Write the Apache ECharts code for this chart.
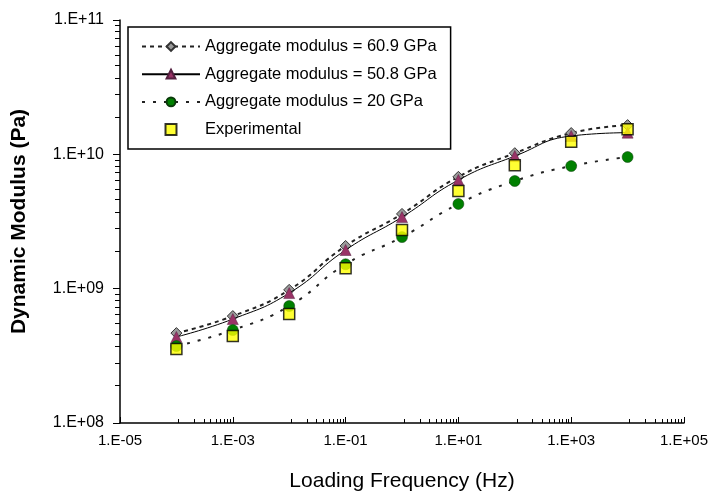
<!DOCTYPE html>
<html>
<head>
<meta charset="utf-8">
<script src="https://cdn.jsdelivr.net/npm/echarts@6/dist/echarts.min.js"></script>
<style>
  html, body { margin: 0; padding: 0; background: #fff; }
  #chart { width: 718px; height: 495px; }
</style>
</head>
<body>
<div id="chart"></div>
<script>
// loading frequency, Hz
var freq = [1e-4, 1e-3, 1e-2, 1e-1, 1, 10, 100, 1000, 10000]
// dynamic modulus, Pa
var mod609 = [4.67e8, 6.25e8, 9.8e8, 2.08e9, 3.6e9, 6.8e9, 1.02e10, 1.44e10, 1.65e10]
var mod508 = [4.37e8, 5.94e8, 9.27e8, 1.94e9, 3.41e9, 6.44e9, 9.7e9, 1.37e10, 1.45e10]
var mod20 = [3.74e8, 4.92e8, 7.43e8, 1.52e9, 2.42e9, 4.27e9, 6.33e9, 8.18e9, 9.55e9]
var experimental = [3.55e8, 4.44e8, 6.47e8, 1.42e9, 2.73e9, 5.33e9, 8.31e9, 1.24e10, 1.54e10]
var names = ['Aggregate modulus = 60.9 GPa', 'Aggregate modulus = 50.8 GPa', 'Aggregate modulus = 20 GPa', 'Experimental']

var squareIcon = 'path://M0,0L10,0L10,10L0,10Z'

function pairs (ys) {
  return freq.map(function (f, i) { return [f, ys[i]] })
}
function expLabel (v) {
  var e = Math.round(Math.log10(v))
  var s = e < 0 ? '-' : '+'
  var a = Math.abs(e)
  return '1.E' + s + (a < 10 ? '0' + a : a)
}

var font = 'Liberation Sans, Arial, sans-serif'
var chart = echarts.init(document.getElementById('chart'))
chart.setOption({
  animation: false,
  textStyle: { fontFamily: font },
  grid: { left: 120, right: 34, top: 20, bottom: 72, outerBoundsMode: 'none' },
  legend: {
    orient: 'vertical',
    left: 128,
    top: 27,
    padding: [11, 14, 11, 13],
    itemGap: 10.7,
    itemWidth: 58,
    itemHeight: 11,
    borderColor: '#000',
    borderWidth: 1.5,
    textStyle: { fontSize: 16.5, color: '#000', fontFamily: font },
    data: [
      { name: names[0] },
      { name: names[1] },
      { name: names[2] },
      { name: names[3], icon: squareIcon }
    ]
  },
  xAxis: {
    type: 'log',
    logBase: 10,
    min: 1e-5,
    max: 1e5,
    interval: 2,
    name: 'Loading Frequency (Hz)',
    nameLocation: 'middle',
    nameGap: 48,
    nameTextStyle: { fontSize: 21, color: '#000', fontFamily: font },
    axisLine: { lineStyle: { color: '#000', width: 1.5 } },
    axisTick: { inside: true, length: 6, lineStyle: { color: '#000' } },
    minorTick: { show: true, splitNumber: 10, length: 4, lineStyle: { color: '#000' } },
    splitLine: { show: false },
    axisLabel: { fontSize: 15, color: '#000', margin: 10, formatter: expLabel }
  },
  yAxis: {
    type: 'log',
    logBase: 10,
    min: 1e8,
    max: 1e11,
    interval: 1,
    name: 'Dynamic Modulus (Pa)',
    nameLocation: 'middle',
    nameGap: 90,
    nameTextStyle: { fontSize: 21, fontWeight: 'bold', color: '#000', fontFamily: font },
    axisLine: { lineStyle: { color: '#000', width: 1.5 } },
    axisTick: { length: 7, lineStyle: { color: '#000' } },
    minorTick: { show: true, splitNumber: 10, length: 5, lineStyle: { color: '#000' } },
    splitLine: { show: false },
    axisLabel: { fontSize: 16, color: '#000', margin: 16, formatter: expLabel }
  },
  series: [
    {
      name: names[0],
      type: 'line',
      smooth: true,
      data: pairs(mod609),
      symbol: 'diamond',
      symbolSize: 11,
      z: 2,
      itemStyle: { color: '#9a9a9a', borderColor: '#333', borderWidth: 1 },
      lineStyle: { color: '#222', width: 2, type: [4, 4] }
    },
    {
      name: names[1],
      type: 'line',
      smooth: true,
      data: pairs(mod508),
      symbol: 'triangle',
      symbolSize: 11,
      z: 3,
      itemStyle: { color: '#993366', borderColor: '#552040', borderWidth: 0.5 },
      lineStyle: { color: '#000', width: 1 }
    },
    {
      name: names[2],
      type: 'line',
      smooth: true,
      data: pairs(mod20),
      symbol: 'circle',
      symbolSize: 11,
      z: 4,
      itemStyle: { color: '#008000', borderColor: '#0a3a0a', borderWidth: 0.5 },
      lineStyle: { color: '#222', width: 2, type: [3, 8] }
    },
    {
      name: names[3],
      type: 'scatter',
      data: pairs(experimental),
      symbol: squareIcon,
      symbolSize: 11,
      z: 5,
      itemStyle: { color: '#ffff00', borderColor: '#000', borderWidth: 1.5 }
    }
  ]
})
</script>
</body>
</html>
